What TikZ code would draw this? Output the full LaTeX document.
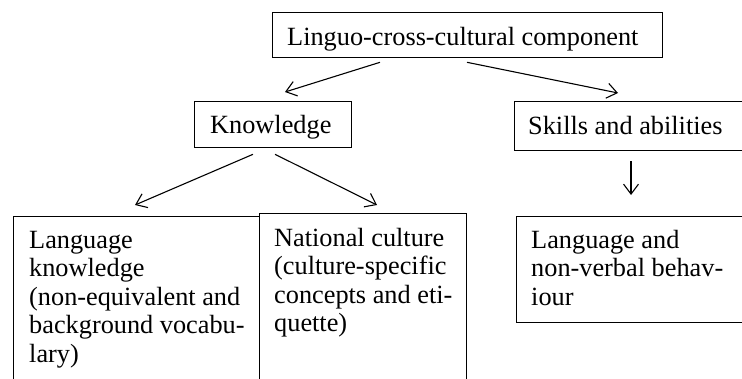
\documentclass[tikz,border=0pt]{standalone}
\usepackage{fontspec}
\setmainfont{Liberation Serif}
\usetikzlibrary{arrows.meta,calc}
\begin{document}
\begin{tikzpicture}[x=1pt,y=-1pt,
  boxnode/.style={draw, line width=1.3pt, anchor=north west, inner sep=0pt},
  label/.style={anchor=base west, inner sep=0pt, font=\fontsize{26.3}{28.5}\selectfont},
  multi/.style={anchor=north west, inner sep=0pt, align=left, font=\fontsize{26.3}{28.5}\selectfont},
  arr/.style={line width=1.1pt, -{Straight Barb[length=10pt,width=15pt]}}
]
\useasboundingbox (0,0) rectangle (742,378);
\fill[white] (0,0) rectangle (742,378);
\clip (0,0) rectangle (742,378);

\node[boxnode, minimum width=390pt, minimum height=45pt] (top) at (272,12) {};
\node[boxnode, minimum width=157pt, minimum height=46pt] (know) at (194,101) {};
\node[boxnode, minimum width=260pt, minimum height=49pt] (skills) at (514,101) {};
\node[boxnode, minimum width=246pt, minimum height=200pt] (lang) at (13,216) {};
\node[boxnode, minimum width=207pt, minimum height=200pt] (nat) at (259,213) {};
\node[boxnode, minimum width=260pt, minimum height=106pt] (nvb) at (516,216) {};

\node[label] (topt) at (287,45) {Linguo-cross-cultural component};
\node[label] (knowt) at (210,133) {Knowledge};
\node[label] (skillst) at (528,134) {Skills and abilities};
\node[multi] (langt) at (29,228) {\strut Language\\knowledge\\(non-equivalent and\\background vocabu-\\lary)};
\node[multi] (natt) at (274,226) {\strut National culture\\(culture-specific\\concepts and eti-\\quette)};
\node[multi] (nvbt) at (531,228) {\strut Language and\\non-verbal behav-\\iour};

\draw[arr] ($(top.south west)+(108,4)$) -- ($(know.north west)+(91,-9)$);
\draw[arr] ($(top.south west)+(195,4)$) -- ($(skills.north west)+(104,-8)$);
\draw[arr] ($(know.south west)+(59,6)$) -- ($(lang.north west)+(122,-11)$);
\draw[arr] ($(know.south west)+(81,6)$) -- ($(nat.north west)+(118,-8)$);
\draw[arr] ($(skills.south west)+(117,10)$) -- ($(nvb.north west)+(115,-21)$);
\end{tikzpicture}
\end{document}
